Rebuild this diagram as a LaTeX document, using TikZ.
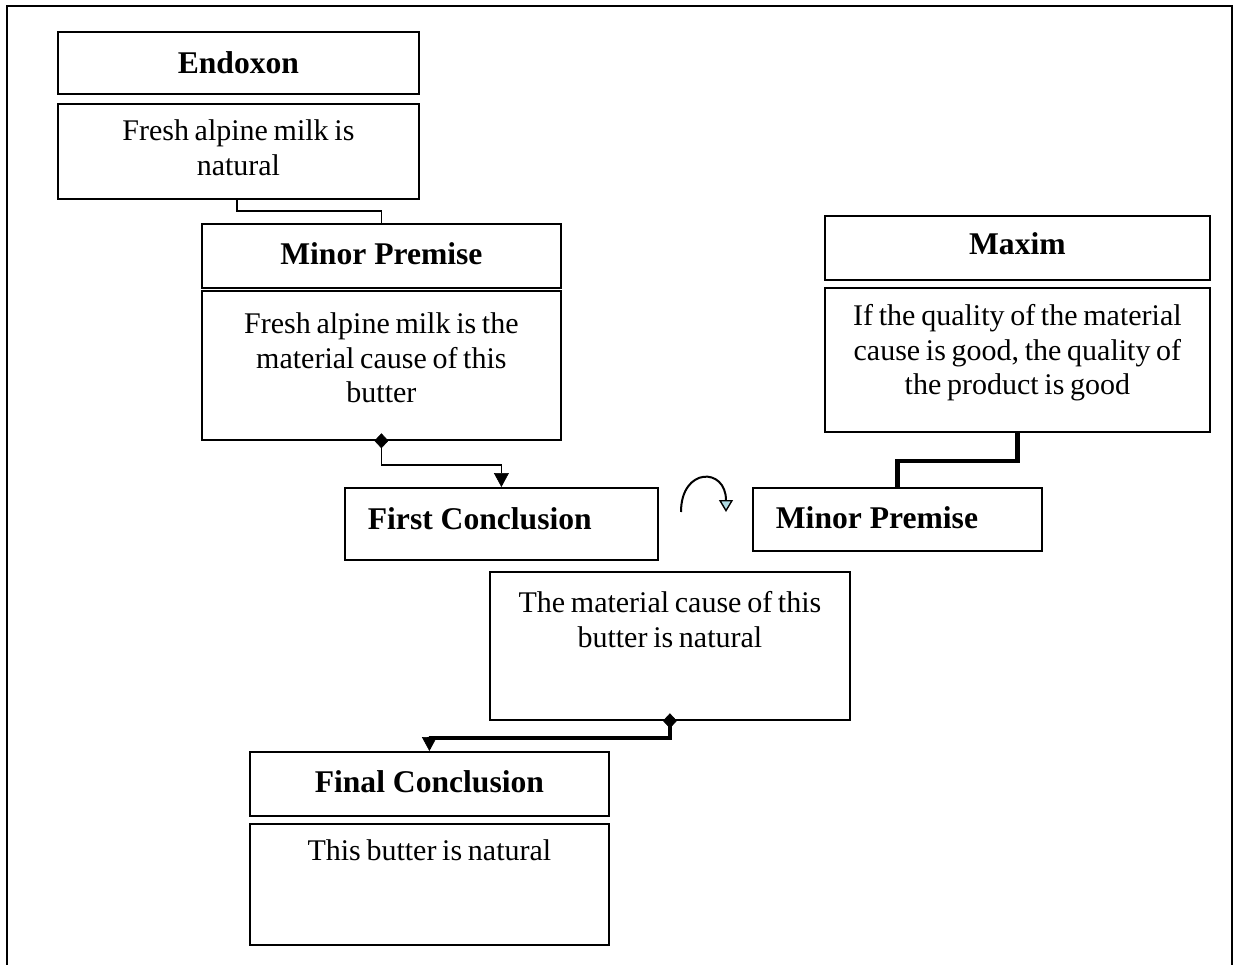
\documentclass[tikz,border=0pt]{standalone}
\usepackage{fontspec}
\setmainfont{Liberation Serif}
\usetikzlibrary{arrows.meta}
\newcommand\txtbody{\fontsize{30pt}{34.5pt}\selectfont\spaceskip=5.7pt\relax}
\newcommand\txthead{\fontsize{31.6pt}{36pt}\selectfont\bfseries}
\definecolor{tipblue}{RGB}{176,220,228}

\begin{document}
\begin{tikzpicture}[x=1pt,y=-1pt,
  box/.style={draw, line width=1.8pt, inner sep=0pt, anchor=north west, align=flush center},
  body/.style={box, font=\txtbody},
  head/.style={box, font=\txthead},
  headleft/.style={box, font=\txthead, align=flush left, inner xsep=23pt},
  link/.style={line width=1.8pt},
  boldlink/.style={line width=4.5pt},
  flow/.style={arrows={Diamond[length=15pt,width=14pt,line width=0.6pt]-Triangle[length=14pt,width=15pt,line width=0.6pt]}, shorten <=-7.5pt},
  turn/.style={line width=2pt, arrows={-Triangle[length=12pt,width=14pt,fill=tipblue,line width=1.4pt]}}
]
\useasboundingbox (0,0) rectangle (1234,964);

% outer frame, open at the bottom
\draw[line width=2pt] (7,970) -- (7,6) -- (1232,6) -- (1232,970);

% Endoxon
\node[head, text width=361pt, text height=42pt, text depth=20pt] (E1t) at (57,31) {Endoxon};
\node[body, text width=361pt, text height=37pt, text depth=58pt] (E1b) at (57,103) {Fresh alpine milk is\\natural};

% Minor premise
\node[head, text width=359pt, text height=41pt, text depth=23pt] (MPt) at (201,223) {Minor Premise};
\node[body, text width=359pt, text height=43pt, text depth=106pt] (MPb) at (201,290) {Fresh alpine milk is the\\material cause of this\\butter};

% First conclusion
\node[headleft, text width=267pt, text height=42pt, text depth=30pt] (FC) at (344,487) {First Conclusion};

% Maxim
\node[head, text width=385pt, text height=39pt, text depth=25pt] (Mt) at (824,215) {Maxim};
\node[body, text width=385pt, text height=38pt, text depth=106pt] (Mb) at (824,287) {If the quality of the material\\cause is good, the quality of\\the product is good};

% Second minor premise
\node[headleft, text width=243pt, text height=41pt, text depth=22pt] (MP2) at (752,487) {Minor Premise};

% First conclusion statement
\node[body, text width=360pt, text height=41pt, text depth=107pt] (MCb) at (489,571) {The material cause of this\\butter is natural};

% Final conclusion
\node[head, text width=359pt, text height=41pt, text depth=23pt] (FCt) at (249,751) {Final Conclusion};
\node[body, text width=359pt, text height=37pt, text depth=84pt] (FCb) at (249,823) {This butter is natural};

% connectors
\coordinate (j1) at (237,211);
\draw[link] (j1 |- E1b.south) -- (j1) -| (MPt.north);
\draw[link, flow] (MPb.south) -- ++(0,24) -| (FC.north);
\draw[boldlink] (Mb.south) -- ++(0,28) -| (MP2.north);
\draw[line width=4pt, flow] (MCb.south) -- ++(0,17) -| (FCt.north);

% turn-around arrow between the two middle boxes
\coordinate (t0) at (681,512);
\coordinate (t1) at (726,512);
\draw[turn] (t0) .. controls (681,467) and (726,467) .. (t1);
\end{tikzpicture}
\end{document}
